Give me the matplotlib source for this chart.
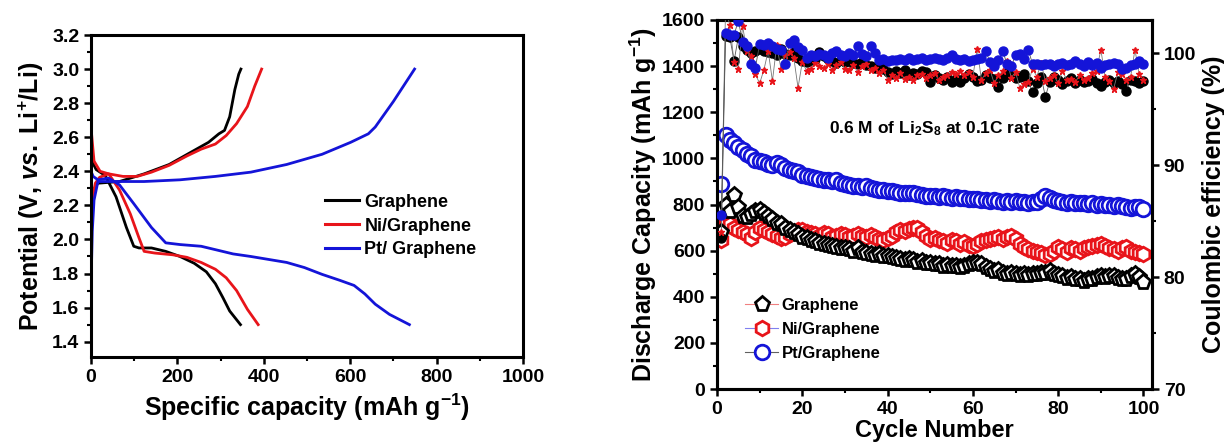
import matplotlib
matplotlib.use("Agg")
import matplotlib.pyplot as plt
from matplotlib.lines import Line2D
from matplotlib.ticker import MultipleLocator

plt.rcParams['font.family'] = ['Liberation Sans', 'DejaVu Sans']
plt.rcParams['font.weight'] = 'bold'
plt.rcParams['mathtext.fontset'] = 'custom'
plt.rcParams['mathtext.rm'] = 'Liberation Sans:bold'
plt.rcParams['mathtext.it'] = 'Liberation Sans:italic:bold'
plt.rcParams['mathtext.bf'] = 'Liberation Sans:bold'
plt.rcParams['axes.unicode_minus'] = True

# ---------------- Left panel data (charge / discharge profiles) ----------------
gr_ch_cap = [0, 3, 8, 16, 66, 123, 181, 230, 272, 296, 309, 321, 333, 342, 347]
gr_ch_v = [2.05, 2.22, 2.30, 2.33, 2.34, 2.385, 2.44, 2.51, 2.57, 2.62, 2.64, 2.72, 2.88, 2.97, 3.0]
gr_dis_cap = [0, 2, 12, 33, 58, 82, 99, 111, 140, 173, 206, 239, 267, 288, 305, 321, 346]
gr_dis_v = [2.55, 2.46, 2.41, 2.375, 2.25, 2.07, 1.96, 1.95, 1.95, 1.93, 1.90, 1.86, 1.81, 1.74, 1.66, 1.58, 1.50]

ni_ch_cap = [0, 4, 10, 20, 41, 74, 107, 140, 181, 222, 255, 288, 313, 337, 362, 379, 395]
ni_ch_v = [2.10, 2.25, 2.33, 2.365, 2.385, 2.37, 2.37, 2.395, 2.435, 2.49, 2.53, 2.56, 2.61, 2.68, 2.78, 2.90, 3.0]
ni_dis_cap = [0, 2, 7, 21, 41, 66, 91, 111, 123, 148, 189, 222, 255, 288, 313, 337, 362, 387]
ni_dis_v = [2.66, 2.60, 2.46, 2.40, 2.385, 2.29, 2.15, 2.01, 1.93, 1.92, 1.91, 1.895, 1.865, 1.825, 1.775, 1.70, 1.59, 1.50]

pt_ch_cap = [0, 3, 7, 16, 33, 123, 206, 288, 370, 453, 535, 601, 642, 658, 700, 749]
pt_ch_v = [1.72, 2.05, 2.23, 2.34, 2.34, 2.34, 2.35, 2.37, 2.395, 2.44, 2.50, 2.57, 2.62, 2.66, 2.81, 3.0]
pt_dis_cap = [0, 5, 16, 41, 66, 99, 140, 173, 206, 255, 288, 329, 370, 453, 494, 535, 576, 609, 634, 658, 691, 737]
pt_dis_v = [2.40, 2.37, 2.35, 2.36, 2.32, 2.21, 2.07, 1.98, 1.97, 1.96, 1.94, 1.915, 1.90, 1.865, 1.835, 1.795, 1.76, 1.73, 1.68, 1.62, 1.56, 1.50]

labels_left = ['Graphene', 'Ni/Graphene', 'Pt/ Graphene']

# ---------------- Right panel data (cycling) ----------------
cycles = list(range(1, 101))

gr_cap = [680, 800, 770, 840, 790, 750, 745, 760, 770, 775, 765, 750, 735, 720, 715, 700, 690, 680, 670, 660,
          655, 645, 640, 635, 630, 625, 620, 615, 610, 612, 605, 600, 610, 595, 590, 585, 580, 585, 575, 578,
          572, 570, 565, 560, 565, 560, 552, 555, 548, 545, 542, 540, 535, 538, 532, 535, 530, 535, 540, 545,
          548, 540, 530, 520, 510, 515, 505, 500, 502, 498, 495, 498, 495, 500, 498, 502, 505, 510, 500, 495,
          488, 480, 485, 478, 475, 470, 478, 475, 485, 490, 485, 492, 488, 480, 478, 475, 490, 500, 485, 465]

ni_cap = [645, 720, 715, 700, 690, 680, 670, 655, 680, 700, 690, 680, 670, 665, 655, 660, 670, 680, 690, 690,
          680, 675, 670, 665, 675, 670, 660, 665, 672, 668, 660, 665, 670, 665, 660, 668, 660, 650, 645, 655,
          665, 680, 690, 685, 695, 700, 698, 680, 665, 650, 655, 645, 640, 635, 645, 640, 630, 638, 625, 620,
          630, 640, 645, 650, 655, 660, 650, 660, 662, 650, 630, 615, 605, 600, 595, 590, 580, 585, 600, 615,
          605, 595, 610, 605, 600, 610, 615, 620, 625, 630, 620, 610, 605, 598, 610, 615, 600, 595, 590, 585]

pt_cap = [890, 1100, 1080, 1065, 1050, 1035, 1020, 1010, 995, 990, 985, 975, 970, 980, 970, 960, 950, 945, 940, 930,
          925, 920, 915, 910, 905, 905, 900, 905, 895, 890, 885, 880, 880, 875, 880, 870, 868, 865, 862, 860,
          858, 855, 852, 850, 852, 848, 845, 840, 838, 835, 835, 832, 835, 832, 830, 832, 828, 830, 825, 825,
          822, 820, 818, 815, 818, 815, 812, 815, 812, 815, 810, 812, 808, 810, 812, 825, 835, 828, 820, 815,
          812, 808, 810, 805, 808, 805, 802, 805, 800, 802, 798, 800, 795, 798, 795, 790, 785, 788, 790, 780]

gr_ce = [83.5, 101.5, 101.4, 99.3, 101.4, 100.6, 100.3, 100.0, 100.2, 100.4, 100.2, 100.1, 100.0, 99.8, 100.4, 99.9, 99.8, 100.1, 99.6, 99.3,
         99.2, 99.4, 99.5, 100.1, 99.7, 99.5, 99.3, 99.1, 99.4, 99.2, 99.3, 99.1, 99.0, 99.2, 98.9, 98.8, 98.7, 98.9, 98.6, 98.3,
         98.1, 98.4, 98.2, 98.5, 98.0, 98.2, 98.1, 98.4, 98.3, 97.4, 98.0, 97.8, 97.6, 97.9, 97.4, 97.7, 97.4, 97.8, 98.1, 97.9,
         97.5, 97.6, 98.0, 97.8, 97.7, 97.0, 97.8, 98.2, 98.0, 97.8, 97.9, 98.1, 97.5, 96.5, 97.3, 97.9, 96.1, 97.4, 97.9, 97.6,
         97.2, 97.5, 97.8, 97.3, 97.6, 97.4, 97.5, 97.7, 97.3, 97.1, 97.4, 97.6, 97.3, 97.5, 97.2, 96.6, 97.6, 97.5, 97.3, 97.5]

ni_ce = [84.0, 104.0, 102.5, 99.2, 98.6, 102.4, 100.2, 99.7, 98.1, 97.3, 98.5, 100.2, 97.5, 100.7, 98.6, 99.8, 100.1, 99.6, 96.9, 99.2,
         98.4, 98.6, 99.1, 98.8, 98.7, 99.0, 98.5, 98.9, 99.2, 98.6, 98.5, 98.9, 98.3, 98.8, 99.0, 98.5, 98.7, 98.2, 98.5, 97.6,
         98.0, 97.8, 98.2, 97.7, 97.9, 97.6, 98.0, 98.1, 97.8, 98.0, 98.2, 97.6, 97.9, 98.0, 98.3, 98.1, 98.4, 98.0, 98.3, 97.9,
         100.4, 97.6, 98.2, 98.5, 97.3, 98.0, 98.4, 99.3, 97.8, 98.3, 96.9, 97.2, 97.4, 98.6, 97.9, 99.1, 97.5, 97.8, 98.0, 97.3,
         98.4, 97.6, 97.7, 97.4, 98.0, 97.6, 97.8, 98.2, 98.4, 100.3, 97.9, 97.5, 96.8, 98.3, 98.1, 97.6, 97.9, 100.3, 98.1, 97.6]

pt_ce = [85.5, 101.8, 101.6, 101.6, 102.9, 101.0, 100.6, 99.0, 98.7, 100.8, 100.7, 100.9, 100.6, 100.4, 100.3, 99.0, 100.9, 101.2, 100.5, 100.3,
         99.6, 99.8, 99.7, 99.9, 99.8, 99.6, 100.0, 100.2, 99.8, 99.7, 100.0, 99.8, 100.6, 99.9, 99.7, 100.6, 100.0, 99.4, 99.5, 99.3,
         99.4, 99.4, 99.5, 99.4, 99.6, 99.4, 99.5, 99.6, 99.4, 99.5, 99.6, 99.5, 99.4, 99.6, 99.8, 99.5, 99.4, 99.5, 99.3, 99.4,
         99.5, 99.6, 100.2, 99.2, 98.8, 99.4, 100.2, 99.0, 98.8, 99.8, 99.9, 99.5, 100.3, 99.0, 99.0, 98.9, 99.0, 99.0, 98.8, 99.0,
         99.1, 98.9, 99.0, 99.3, 99.0, 98.8, 99.2, 98.9, 99.1, 98.7, 98.9, 99.0, 99.1, 99.0, 98.6, 98.7, 98.9, 99.0, 99.3, 99.0]

labels_right = ['Graphene', 'Ni/Graphene', 'Pt/Graphene']

# ---------------- Figure ----------------
W, H = 1224, 446
fig = plt.figure(figsize=(W / 100, H / 100), dpi=100)

def rect(l, t, r, b):
    return [l / W, 1 - b / H, (r - l) / W, (b - t) / H]

BLACK, RED, BLUE = '#000000', '#e8141a', '#1414d8'

def style(ax, right=False):
    for s in ax.spines.values():
        s.set_linewidth(2.2)
    ax.tick_params(which='major', direction='out', length=5, width=1.8, labelsize=14)
    ax.tick_params(which='minor', direction='out', length=3, width=1.5)
    if not right:
        ax.tick_params(which='both', top=False, right=False)

# Left panel
ax1 = fig.add_axes(rect(91, 35, 523, 357))
ax1.plot(gr_ch_cap, gr_ch_v, color=BLACK, lw=2.0)
ax1.plot(gr_dis_cap, gr_dis_v, color=BLACK, lw=2.0)
ax1.plot(ni_ch_cap, ni_ch_v, color=RED, lw=2.0)
ax1.plot(ni_dis_cap, ni_dis_v, color=RED, lw=2.0)
ax1.plot(pt_ch_cap, pt_ch_v, color=BLUE, lw=2.0)
ax1.plot(pt_dis_cap, pt_dis_v, color=BLUE, lw=2.0)
ax1.set_xlim(0, 1000)
ax1.set_ylim(1.31, 3.2)
ax1.xaxis.set_major_locator(MultipleLocator(200))
ax1.xaxis.set_minor_locator(MultipleLocator(100))
ax1.yaxis.set_major_locator(MultipleLocator(0.2))
ax1.yaxis.set_minor_locator(MultipleLocator(0.1))
ax1.yaxis.set_major_formatter(matplotlib.ticker.FormatStrFormatter('%.1f'))
style(ax1)
ax1.set_xlabel('Specific capacity (mAh g$^{-1}$)', fontsize=18, fontweight='bold', labelpad=4)
ax1.set_ylabel('Potential (V, $\\mathit{vs.}$ Li$^{+}$/Li)', fontsize=18, fontweight='bold', labelpad=4)
h_left = [Line2D([], [], color=c, lw=2.2) for c in (BLACK, RED, BLUE)]
ax1.legend(h_left, labels_left, loc='upper left', bbox_to_anchor=(0.52, 0.535), frameon=False,
           fontsize=13, handlelength=1.9, handletextpad=0.3, labelspacing=0.38, borderpad=0)

# Right panel
ax2 = fig.add_axes(rect(717, 20, 1152, 389))
ax2.plot(cycles, ni_cap, ls='none', marker='h', ms=10.5, mfc='white', mec=RED, mew=2.0, zorder=3)
ax2.plot(cycles, gr_cap, ls='none', marker='p', ms=11, mfc='white', mec=BLACK, mew=2.0, zorder=4)
ax2.plot(cycles, pt_cap, ls='none', marker='o', ms=10.5, mfc='white', mec=BLUE, mew=2.0, zorder=5)
ax2.set_xlim(0, 102)
ax2.set_ylim(0, 1600)
ax2.xaxis.set_major_locator(MultipleLocator(20))
ax2.xaxis.set_minor_locator(MultipleLocator(10))
ax2.yaxis.set_major_locator(MultipleLocator(200))
ax2.yaxis.set_minor_locator(MultipleLocator(100))
style(ax2)
ax2.set_xlabel('Cycle Number', fontsize=17, fontweight='bold', labelpad=1)
ax2.set_ylabel('Discharge Capacity (mAh g$^{-1}$)', fontsize=18, fontweight='bold', labelpad=2)

ax3 = ax2.twinx()
ax3.plot(cycles, gr_ce, color='#555555', lw=0.6, marker='o', ms=6.5, mfc=BLACK, mec=BLACK, zorder=3)
ax3.plot(cycles, ni_ce, color='#777777', lw=0.6, marker='*', ms=5, mfc=RED, mec=RED, zorder=3)
ax3.plot(cycles, pt_ce, color='#555555', lw=0.6, marker='o', ms=6.5, mfc=BLUE, mec=BLUE, zorder=4)
ax3.set_ylim(70, 102.95)
ax3.yaxis.set_major_locator(MultipleLocator(10))
ax3.yaxis.set_minor_locator(MultipleLocator(5))
for s in ax3.spines.values():
    s.set_linewidth(2.2)
ax3.tick_params(which='major', direction='out', length=5, width=1.8, labelsize=14)
ax3.tick_params(which='minor', direction='out', length=3, width=1.5)
ax3.set_ylabel('Coulombic efficiency (%)', fontsize=18, fontweight='bold', labelpad=4)

ax2.text(0.5, 0.705, '0.6 M of Li$_2$S$_8$ at 0.1C rate', transform=ax2.transAxes,
         ha='center', va='center', fontsize=12.5, fontweight='bold')

h_right = [
    Line2D([], [], color='#f08080', lw=0.8, marker='p', ms=11, mfc='white', mec=BLACK, mew=2.0),
    Line2D([], [], color='#8080f0', lw=0.8, marker='h', ms=10.5, mfc='white', mec=RED, mew=2.0),
    Line2D([], [], color='#606060', lw=0.8, marker='o', ms=10.5, mfc='white', mec=BLUE, mew=2.0),
]
ax3.legend(h_right, labels_right, loc='upper left', bbox_to_anchor=(0.045, 0.27), frameon=False,
           fontsize=12, handlelength=2.0, handletextpad=0.2, labelspacing=0.55, borderpad=0)

fig.savefig('out.png', dpi=100)
